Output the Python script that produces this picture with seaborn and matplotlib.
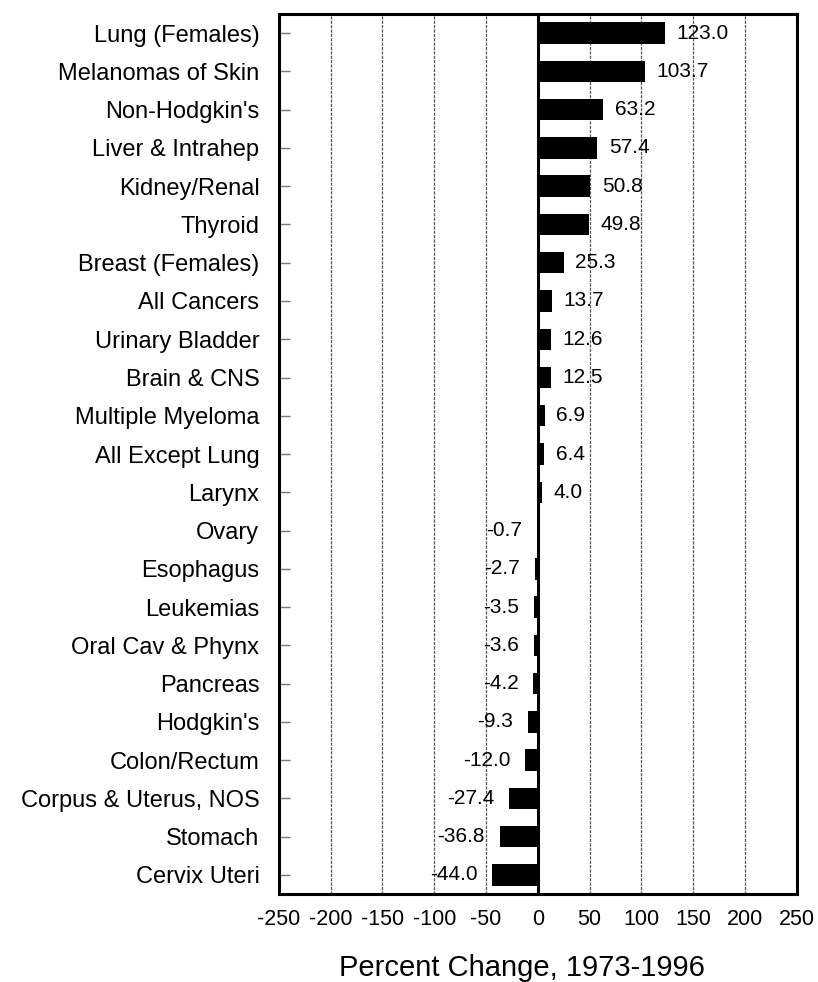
"""
Percent change in cancer incidence, 1973-1996, one horizontal bar per site.
"""

import numpy as np
import pandas as pd
import matplotlib
matplotlib.use("Agg")
import matplotlib.pyplot as plt
import seaborn as sns

# ── data ──────────────────────────────────────────────────────────────────────
SITES = [
    "Lung (Females)", "Melanomas of Skin", "Non-Hodgkin's", "Liver & Intrahep",
    "Kidney/Renal", "Thyroid", "Breast (Females)", "All Cancers",
    "Urinary Bladder", "Brain & CNS", "Multiple Myeloma", "All Except Lung",
    "Larynx", "Ovary", "Esophagus", "Leukemias", "Oral Cav & Phynx",
    "Pancreas", "Hodgkin's", "Colon/Rectum", "Corpus & Uterus, NOS",
    "Stomach", "Cervix Uteri",
]
PCT_CHANGE = [
    123.0, 103.7, 63.2, 57.4, 50.8, 49.8, 25.3, 13.7, 12.6, 12.5, 6.9, 6.4,
    4.0, -0.7, -2.7, -3.5, -3.6, -4.2, -9.3, -12.0, -27.4, -36.8, -44.0,
]
X_TICKS = [-250, -200, -150, -100, -50, 0, 50, 100, 150, 200, 250]

df = pd.DataFrame({"site": SITES, "pct": PCT_CHANGE})

# ── style ─────────────────────────────────────────────────────────────────────
sns.set_style("white")
plt.rcParams["font.family"] = ["Liberation Sans", "DejaVu Sans"]
plt.rcParams["text.color"] = "black"
plt.rcParams["axes.labelcolor"] = "black"
plt.rcParams["xtick.color"] = "black"
plt.rcParams["ytick.color"] = "black"

# ── main ──────────────────────────────────────────────────────────────────────
fig = plt.figure(figsize=(8.18, 9.82), dpi=100, facecolor="white")
ax = fig.add_axes([0.341, 0.0896, 0.633, 0.8961])

# grid first so the bars sit on top
for xv in X_TICKS[1:-1]:
    if xv == 0:
        continue
    ax.axvline(xv, color="#555555", lw=0.9, ls=(0, (2.5, 1)), zorder=0)

sns.barplot(
    data=df, x="pct", y="site", orient="h",
    color="black", saturation=1, width=0.56,
    edgecolor="none", ax=ax, zorder=2,
)
ax.axvline(0, color="black", lw=2.2, zorder=3)

# value labels, Excel-style offsets
for i, v in enumerate(PCT_CHANGE):
    if v >= 0:
        ax.text(v + 11, i, f"{v:.1f}", ha="left", va="center", fontsize=15,
                color="black", zorder=4)
    else:
        ax.text(v - 14.5, i, f"{v:.1f}", ha="right", va="center", fontsize=15,
                color="black", zorder=4)

ax.set_xlim(-250, 250)
ax.set_ylim(len(SITES) - 0.5, -0.5)
ax.set_xticks(X_TICKS)
ax.set_xticklabels([str(t) for t in X_TICKS])
ax.tick_params(axis="x", length=0, pad=11, labelsize=15.5, labelcolor="black")
ax.tick_params(axis="y", direction="in", length=8, width=1, color="#777777",
               pad=14, labelsize=17, labelcolor="black", left=True)

ax.set_ylabel("")
ax.set_xlabel("Percent Change, 1973-1996", fontsize=21, color="black")
ax.xaxis.set_label_coords(0.469, -0.068)

for sp in ax.spines.values():
    sp.set_visible(True)
    sp.set_color("black")
    sp.set_linewidth(2.2)

fig.savefig("out.png", dpi=100, facecolor="white")
plt.close(fig)
